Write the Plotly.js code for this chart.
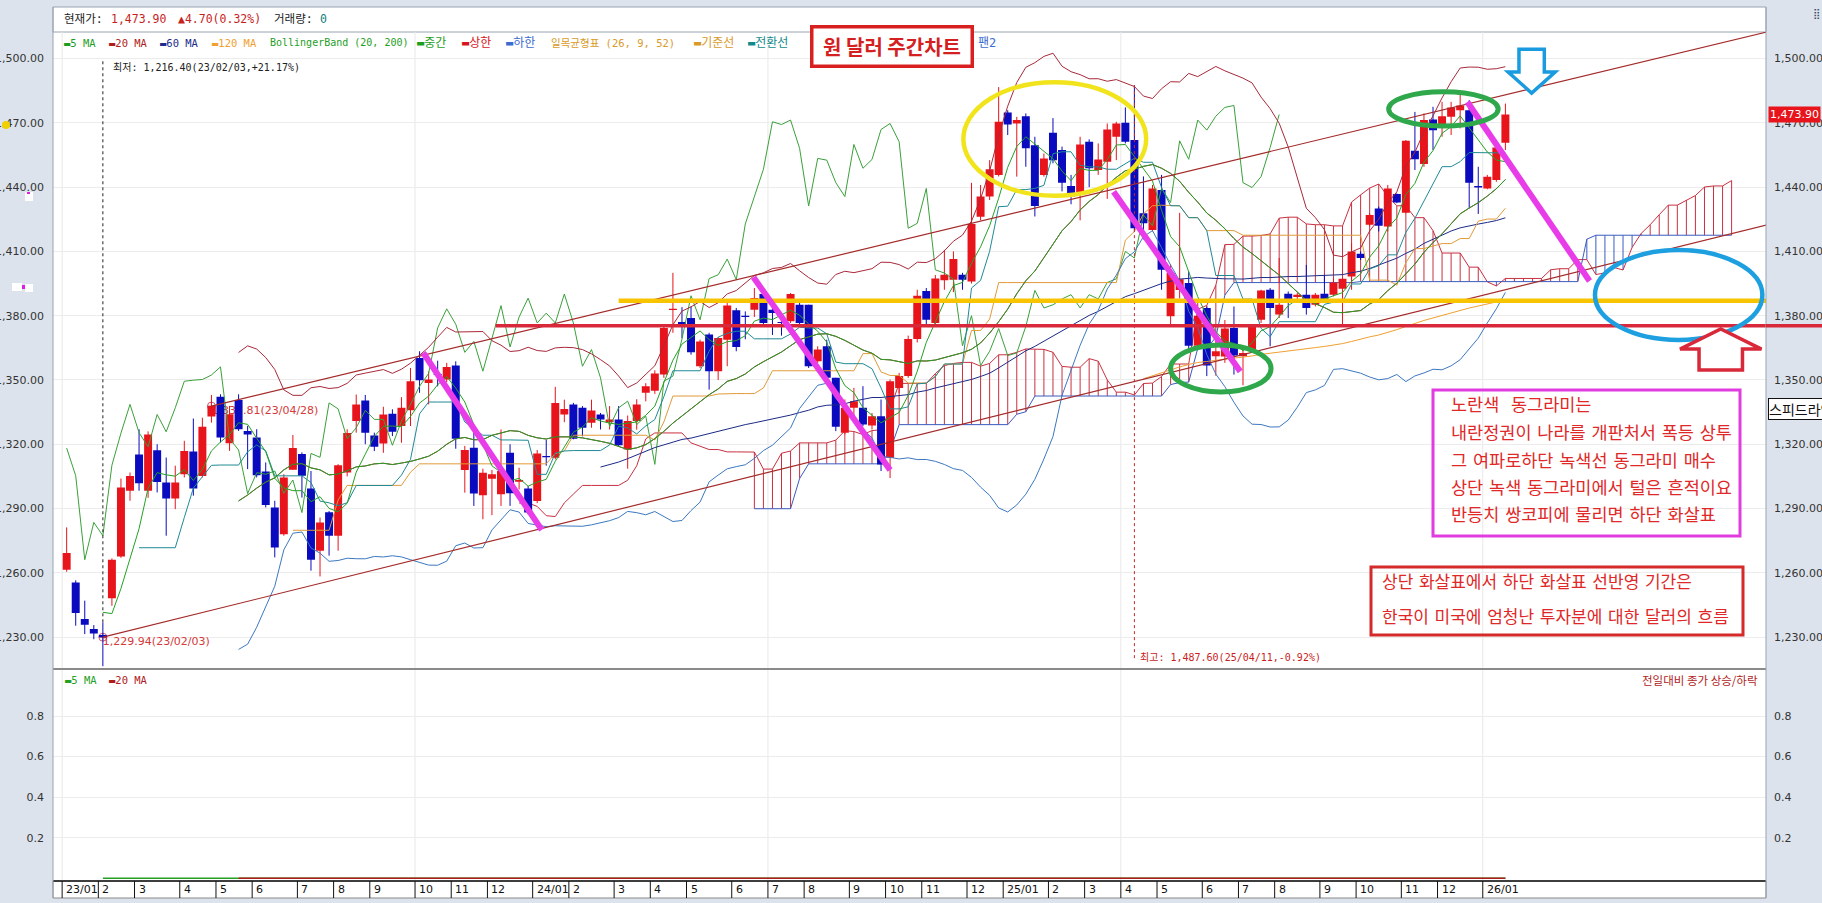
<!DOCTYPE html>
<html>
<head>
<meta charset="utf-8">
<script src="https://cdn.plot.ly/plotly-3.0.1.min.js"></script>
<style>
html,body{margin:0;padding:0;background:#dce3ec;overflow:hidden;}
#chart{width:1822px;height:903px;}
</style>
</head>
<body>
<div id="chart"></div>
<script>
// ================= DATA (weekly USD/KRW candles) =================
const firstWeekFriday = [2023, 0, 6];
const opens = [1261.4,1255.5,1238.4,1233.8,1231.0,1248.1,1267.6,1298.3,1315.2,1298.3,
1317.2,1302.1,1294.7,1306.0,1316.6,1305.2,1332.9,1342.2,1320.5,1340.7,
1326.2,1323.1,1307.3,1290.5,1278.0,1308.1,1315.4,1299.3,1270.3,1288.2,
1277.3,1306.8,1330.8,1340.4,1324.1,1320.4,1334.2,1328.5,1335.9,1360.3,
1348.6,1352.8,1350.2,1356.7,1308.0,1318.4,1296.2,1303.9,1296.7,1316.0,
1302.5,1299.3,1293.5,1314.5,1313.7,1333.9,1338.6,1337.0,1330.0,1333.9,
1330.3,1331.6,1317.6,1330.8,1344.0,1345.0,1352.5,1382.6,1377.0,1378.9,
1356.4,1371.2,1354.1,1368.8,1382.5,1380.0,1382.8,1390.1,1382.8,1377.0,
1377.4,1385.1,1385.1,1358.7,1365.7,1351.0,1325.4,1337.0,1337.0,1328.8,
1333.1,1313.7,1346.3,1351.8,1369.1,1391.5,1376.6,1396.5,1396.8,1399.1,
1396.0,1426.2,1435.6,1445.7,1474.8,1469.7,1473.1,1459.6,1445.7,1465.4,
1457.3,1440.5,1436.3,1461.2,1448.0,1451.9,1463.5,1470.0,1462.0,1427.8,
1420.0,1438.7,1379.7,1392.0,1395.2,1366.0,1383.6,1361.1,1361.0,1374.3,
1361.1,1364.5,1378.1,1392.1,1380.5,1390.2,1388.7,1389.8,1385.1,1390.2,
1389.8,1392.6,1398.3,1408.9,1422.4,1430.0,1421.6,1436.8,1428.0,1457.0,
1450.8,1471.6,1468.9,1472.8,1475.9,1475.9,1440.5,1439.4,1443.3,1460.7];
const highs = [1281.2,1256.5,1247.0,1235.6,1236.9,1266.7,1304.0,1306.8,1327.0,1326.0,
1320.0,1313.8,1310.0,1321.6,1332.0,1332.4,1343.0,1343.3,1337.9,1343.3,
1328.6,1327.0,1311.5,1293.6,1306.0,1324.3,1316.2,1307.5,1285.8,1288.8,
1310.7,1327.0,1343.2,1343.0,1325.4,1337.5,1336.3,1342.0,1355.6,1363.4,
1354.0,1359.0,1358.0,1358.7,1319.2,1325.4,1308.6,1308.0,1326.9,1320.0,
1309.0,1300.5,1317.3,1322.0,1346.8,1340.8,1339.3,1337.8,1340.8,1334.6,
1337.8,1337.8,1333.4,1341.0,1348.5,1354.5,1375.8,1400.0,1384.0,1384.3,
1368.8,1372.0,1370.0,1386.0,1383.6,1382.0,1392.9,1390.6,1384.3,1380.0,
1390.6,1385.9,1385.1,1365.7,1368.8,1351.0,1340.9,1346.3,1347.1,1334.6,
1340.9,1350.2,1353.3,1370.7,1392.1,1392.9,1399.0,1410.7,1410.0,1400.0,
1442.0,1441.0,1452.6,1486.7,1475.9,1472.8,1474.4,1463.5,1455.7,1472.2,
1458.9,1445.7,1463.5,1462.3,1460.4,1469.7,1470.5,1477.2,1487.6,1445.0,
1441.0,1445.7,1404.0,1428.0,1400.6,1386.0,1384.3,1370.0,1378.0,1384.3,
1364.2,1376.0,1392.1,1392.9,1406.9,1391.3,1390.6,1403.7,1390.6,1399.1,
1397.5,1397.5,1413.8,1410.0,1427.8,1430.9,1441.0,1437.1,1462.0,1475.1,
1474.4,1477.5,1479.8,1479.8,1484.5,1480.6,1449.5,1445.7,1458.8,1479.0];
const lows = [1260.5,1235.3,1231.4,1229.0,1216.4,1244.6,1267.0,1293.6,1298.3,1295.0,
1297.5,1277.3,1289.7,1304.5,1296.0,1304.5,1330.1,1320.8,1316.9,1326.2,
1308.4,1304.5,1290.5,1267.2,1277.3,1308.0,1295.1,1261.0,1258.3,1268.0,
1270.3,1305.0,1325.4,1320.0,1316.8,1316.0,1323.8,1320.7,1328.5,1344.0,
1338.6,1347.0,1349.0,1317.9,1297.4,1291.2,1285.0,1286.9,1291.2,1291.2,
1298.9,1287.3,1292.5,1310.0,1312.9,1330.3,1322.3,1323.7,1327.7,1326.9,
1326.9,1319.2,1308.6,1326.8,1340.0,1343.5,1351.0,1372.0,1369.5,1361.8,
1355.6,1345.5,1350.0,1356.4,1363.4,1369.0,1379.4,1375.8,1371.0,1370.7,
1376.6,1375.8,1355.6,1357.9,1350.2,1326.1,1324.6,1333.1,1328.4,1326.9,
1307.5,1304.2,1343.8,1351.0,1367.5,1375.0,1375.5,1392.1,1391.0,1392.1,
1395.0,1424.5,1434.0,1445.0,1464.3,1444.9,1449.5,1426.3,1444.9,1451.1,
1438.0,1432.0,1424.5,1440.0,1445.7,1434.5,1452.6,1460.4,1419.3,1415.6,
1419.3,1392.1,1375.0,1388.0,1363.9,1364.0,1351.8,1352.0,1358.0,1352.5,
1347.5,1363.7,1376.6,1365.7,1378.9,1378.9,1387.5,1380.5,1384.3,1387.5,
1389.0,1375.8,1392.1,1406.0,1421.6,1419.3,1419.3,1432.5,1427.8,1448.0,
1449.5,1457.3,1463.5,1464.3,1467.4,1430.1,1427.5,1439.0,1442.5,1457.3];
const closes = [1269.2,1241.2,1235.8,1231.7,1229.94,1266.1,1299.8,1305.2,1301.8,1324.5,
1302.4,1294.7,1302.1,1316.9,1299.3,1328.2,1337.81,1323.1,1334.0,1327.0,
1324.5,1305.5,1291.7,1271.8,1304.5,1318.2,1305.3,1266.1,1283.5,1277.3,
1310.2,1325.2,1338.6,1325.4,1318.8,1333.9,1325.8,1337.0,1349.4,1349.9,
1350.2,1352.3,1356.1,1322.6,1317.3,1297.0,1306.7,1306.0,1307.5,1297.1,
1303.3,1288.1,1315.7,1313.9,1339.3,1336.5,1322.6,1327.7,1335.8,1331.6,
1331.6,1319.5,1330.8,1338.6,1347.1,1353.0,1374.3,1383.2,1376.0,1362.9,
1368.0,1354.1,1369.6,1384.7,1365.4,1379.4,1388.2,1376.6,1381.2,1376.6,
1390.1,1376.6,1356.4,1364.2,1351.0,1328.2,1337.0,1340.1,1329.2,1333.1,
1310.6,1349.4,1351.8,1369.1,1389.3,1378.1,1397.3,1399.1,1406.4,1396.8,
1422.8,1435.6,1448.3,1470.5,1469.2,1471.3,1458.1,1431.2,1453.4,1452.6,
1442.1,1435.6,1459.9,1448.8,1452.9,1466.9,1469.7,1461.2,1420.8,1423.1,
1439.4,1401.4,1399.9,1397.0,1366.0,1380.0,1356.7,1363.4,1374.0,1361.4,
1362.6,1375.0,1391.8,1383.6,1385.1,1387.8,1389.8,1383.6,1389.8,1387.8,
1395.5,1397.2,1410.0,1406.9,1427.0,1422.0,1439.4,1432.8,1461.6,1453.0,
1471.3,1466.6,1473.1,1477.2,1478.1,1442.1,1439.8,1444.9,1458.5,1473.9];
const volumes = [0,0,0,0,0,0,0,0,0,0,0,0,0,0,0,0,0,0,0,0,0,0,0,0,0,0,0,0,0,0,0,0,0,0,0,0,0,0,0,0,
0,0,0,0,0,0,0,0,0,0,0,0,0,0,0,0,0,0,0,0,0,0,0,0,0,0,0,0,0,0,0,0,0,0,0,0,0,0,0,0,
0,0,0,0,0,0,0,0,0,0,0,0,0,0,0,0,0,0,0,0,0,0,0,0,0,0,0,0,0,0,0,0,0,0,0,0,0,0,0,0,
0,0,0,0,0,0,0,0,0,0,0,0,0,0,0,0,0,0,0,0,0,0,0,0,0,0,0,0,0,0,0,0,0,0,0,0,0,0,0,0];
const dayChange = 4.70;
const dayChangePct = 0.32;

// month tick labels (candle index where each month begins)
const tickIdx = [0,4,8,13,17,21,26,30,34,39,43,47,52,56,61,65,69,74,78,82,87,91,95,100,
104,109,113,117,121,126,130,134,139,143,148,152,157];
const tickText = ['23/01','2','3','4','5','6','7','8','9','10','11','12',
'24/01','2','3','4','5','6','7','8','9','10','11','12',
'25/01','2','3','4','5','6','7','8','9','10','11','12','26/01'];
const priceTicks = [1230,1260,1290,1320,1350,1380,1410,1440,1470,1500];
const subTicks = [0.2,0.4,0.6,0.8];

// hand-drawn objects on the chart (candle index, price)
const trendLowerIdx = [4, 188], trendLowerVal = [1229.94, 1422.5];
const trendUpperIdx = [16, 188], trendUpperVal = [1337.81, 1512.5];
const yellowLineIdx = [61, 188], yellowLineVal = [1387.0, 1387.0];
const redLineIdx = [47.4, 188], redLineVal = [1375.3, 1375.3];
const magentaIdx = [[39.4,52.5],[75.9,91.0],[115.7,129.7],[154.8,168.3]];
const magentaVal = [[1362.7,1280.0],[1397.9,1308.0],[1437.8,1353.9],[1479.7,1396.2]];
const ellipseIdx = [[99.1,119.3],[146.1,158.2],[122.0,133.1],[168.9,187.4]];
const ellipseVal = [[1436.0,1489.0],[1468.5,1484.5],[1344.4,1366.3],[1368.7,1410.6]];
const blueArrowIdx = 161.9, blueArrowVal = [1504.4, 1493.7, 1483.9];
const redArrowIdx = 182.8, redArrowVal = [1373.8, 1364.4, 1354.6];

const titleText = '원 달러 주간차트';
const noteMagenta = ['노란색  동그라미는','내란정권이 나라를 개판처서 폭등 상투','그 여파로하단 녹색선 동그라미 매수','상단 녹색 동그라미에서 털은 흔적이요','반등치 쌍코피에 물리면 하단 화살표'];
const noteRed = ['상단 화살표에서 하단 화살표 선반영 기간은','한국이 미국에 엄청난 투자분에 대한 달러의 흐름'];
const legendLabels = ['▬5 MA','▬20 MA','▬60 MA','▬120 MA','BollingerBand (20, 200)','▬중간','▬상한','▬하한','일목균형표 (26, 9, 52)','▬기준선','▬전환선','팬2'];
const subLegendLabels = ['▬5 MA','▬20 MA'];

// ================= STYLE / GEOMETRY =================
const W = 1822, H = 903, ML = 53, MR = 56, MT = 32, MB = 22;
const PW = W - ML - MR, PH = H - MT - MB;
const px = x => (x - ML) / PW;
const py = y => (H - MB - y) / PH;
const splitY = 669;
const UP = '#e8141c', DOWN = '#0a0abe';
const C = {ma5:'#25a025', ma20:'#a8202a', ma60:'#1c2a86', ma120:'#f0a030', bbMid:'#25a025', bbUp:'#a8283a', bbLow:'#3c78c0',
  kijun:'#e09a38', tenkan:'#1e8a96', lag:'#3aa03a', span1:'#c83040', span2:'#3a5cc0'};
const legendColors = ['#1e9e1e','#b01c1c','#1c2c8c','#f0a030','#1e9e1e','#1e9e1e','#d8141c','#3c6cd0','#d89a28','#d89a28','#108a8a','#3c6cd0'];
const legendX = [62,107,158,210,268,415,460,504,549,692,746,976];
const legendSize = [10.5,10.5,10.5,10.5,10,12,12,12,10.5,12,12,12];
const MONO = 'DejaVu Sans Mono, Noto Sans CJK KR, monospace';
const KR = 'Noto Sans CJK KR, sans-serif';
const NUM = 'DejaVu Sans, sans-serif';
const wide = s => s.replace(/ /g, '\u2004');

// ================= INDICATORS =================
const N = closes.length;
const idx = closes.map((_, i) => i);
function sma(a, n) { return a.map((_, i) => { if (i < n - 1) return null; let s = 0; for (let k = i - n + 1; k <= i; k++) s += a[k]; return s / n; }); }
function sd(a, n) { const m = sma(a, n); return a.map((_, i) => { if (i < n - 1) return null; let s = 0; for (let k = i - n + 1; k <= i; k++) s += (a[k] - m[i]) ** 2; return Math.sqrt(s / n); }); }
function midHL(n) { return highs.map((_, i) => { if (i < n - 1) return null; let hh = -Infinity, ll = Infinity; for (let k = i - n + 1; k <= i; k++) { hh = Math.max(hh, highs[k]); ll = Math.min(ll, lows[k]); } return (hh + ll) / 2; }); }
const ma5 = sma(closes, 5), ma20 = sma(closes, 20), ma60 = sma(closes, 60), ma120 = sma(closes, 120);
const sd20 = sd(closes, 20);
const bbUp = ma20.map((m, i) => m == null ? null : m + 2 * sd20[i]);
const bbLow = ma20.map((m, i) => m == null ? null : m - 2 * sd20[i]);
const tenkan = midHL(9), kijun = midHL(26), senkouB = midHL(52);
const SHIFT = 25;
const cloudX = [], span1 = [], span2 = [];
for (let j = 0; j < N + SHIFT; j++) {
  const i = j - SHIFT;
  cloudX.push(j);
  span1.push(i >= 0 && tenkan[i] != null && kijun[i] != null ? (tenkan[i] + kijun[i]) / 2 : null);
  span2.push(i >= 0 && senkouB[i] != null ? senkouB[i] : null);
}
const lagX = [], lagY = [];
for (let i = SHIFT; i < N; i++) { lagX.push(i - SHIFT); lagY.push(closes[i]); }
const vol5 = sma(volumes, 5), vol20 = sma(volumes, 20);

// ================= TRACES =================
const traces = [];
function lineT(x, y, color, width, extra) {
  return Object.assign({type:'scatter', mode:'lines', x, y, line:{color, width}, hoverinfo:'skip', xaxis:'x', yaxis:'y'}, extra || {});
}
const hatchR = {x:[], y:[]}, hatchB = {x:[], y:[]};
cloudX.forEach((j, k) => {
  if (span1[k] == null || span2[k] == null) return;
  const t = span1[k] >= span2[k] ? hatchR : hatchB;
  t.x.push(j, j, null); t.y.push(span1[k], span2[k], null);
});
traces.push(lineT(hatchR.x, hatchR.y, C.span1, 1));
traces.push(lineT(hatchB.x, hatchB.y, C.span2, 1));
traces.push(lineT(cloudX, span1, C.span1, 1));
traces.push(lineT(cloudX, span2, C.span2, 1));

function fmt(v) { return v.toLocaleString('en-US', {minimumFractionDigits:2, maximumFractionDigits:2}); }
function weekDate(i) {
  const d = new Date(Date.UTC(firstWeekFriday[0], firstWeekFriday[1], firstWeekFriday[2]) + i * 7 * 86400000);
  const p = n => String(n).padStart(2, '0');
  return p(d.getUTCFullYear() % 100) + '/' + p(d.getUTCMonth() + 1) + '/' + p(d.getUTCDate());
}
const anchorIdx = [trendLowerIdx[0], trendUpperIdx[0]];
traces.push({type:'scatter', mode:'markers', x:anchorIdx, y:anchorIdx.map(i => closes[i]), marker:{symbol:'circle-cross-open', size:8, color:'#c85a78', line:{width:1}}, hoverinfo:'skip'});
traces.push({type:'scatter', mode:'text', x:anchorIdx, y:anchorIdx.map(i => closes[i]),
  text:anchorIdx.map(i => fmt(closes[i]) + '(' + weekDate(i) + ')'), textposition:'bottom right',
  textfont:{family:NUM, size:11, color:'#d43a3a'}, hoverinfo:'skip'});

// candles
const wickU = {x:[], y:[]}, wickD = {x:[], y:[]}, bodyU = {x:[], y:[]}, bodyD = {x:[], y:[]};
const HW = 0.44;
idx.forEach(i => {
  const up = closes[i] >= opens[i];
  const w = up ? wickU : wickD, b = up ? bodyU : bodyD;
  w.x.push(i, i, null); w.y.push(lows[i], highs[i], null);
  let lo = Math.min(opens[i], closes[i]), hi = Math.max(opens[i], closes[i]);
  if (hi - lo < 0.5) { const m = (hi + lo) / 2; lo = m - 0.25; hi = m + 0.25; }
  b.x.push(i - HW, i + HW, i + HW, i - HW, i - HW, null);
  b.y.push(lo, lo, hi, hi, lo, null);
});
traces.push(lineT(wickU.x, wickU.y, UP, 1));
traces.push(lineT(wickD.x, wickD.y, DOWN, 1));
traces.push(lineT(bodyU.x, bodyU.y, UP, 0, {fill:'toself', fillcolor:UP}));
traces.push(lineT(bodyD.x, bodyD.y, DOWN, 0, {fill:'toself', fillcolor:DOWN}));

// indicators
traces.push(lineT(lagX, lagY, C.lag, 1));
traces.push(lineT(idx, ma120, C.ma120, 1));
traces.push(lineT(idx, ma60, C.ma60, 1));
traces.push(lineT(idx, kijun, C.kijun, 1));
traces.push(lineT(idx, tenkan, C.tenkan, 1));
traces.push(lineT(idx, bbUp, C.bbUp, 1));
traces.push(lineT(idx, bbLow, C.bbLow, 1));
traces.push(lineT(idx, ma20, C.ma20, 1));
traces.push(lineT(idx, ma5, C.ma5, 1));
traces.push(lineT(idx, ma20, C.bbMid, 1));

let minI = 0, maxI = 0;
idx.forEach(i => { if (lows[i] < lows[minI]) minI = i; if (highs[i] > highs[maxI]) maxI = i; });
const last = closes[N - 1];
traces.push(lineT([minI, minI], [highs[minI], 1499.5], '#222', 1, {line:{color:'#222', width:1, dash:'dot'}}));
traces.push(lineT([maxI, maxI], [highs[maxI], 1219.0], '#c82828', 1, {line:{color:'#c82828', width:1, dash:'3px,3px'}}));

// hand drawn lines
traces.push(lineT(trendLowerIdx, trendLowerVal, '#a42a2a', 1.2));
traces.push(lineT(trendUpperIdx, trendUpperVal, '#a42a2a', 1.2));
traces.push(lineT(yellowLineIdx, yellowLineVal, '#f8c400', 4.5));
traces.push(lineT(redLineIdx, redLineVal, '#d8283a', 3.5));
magentaIdx.forEach((xs, k) => traces.push(lineT(xs, magentaVal[k], '#e83ce8', 6)));

traces.push({type:'scatter', mode:'lines', x:[0], y:[1300], xaxis:'x', yaxis:'y2', line:{width:0}, hoverinfo:'skip'});
traces.push({type:'scatter', mode:'lines', x:idx, y:vol5, xaxis:'x2', yaxis:'y3', line:{color:'#25a025', width:1.5}, hoverinfo:'skip'});
traces.push({type:'scatter', mode:'lines', x:idx, y:vol20, xaxis:'x2', yaxis:'y3', line:{color:'#b01c1c', width:1.5}, hoverinfo:'skip'});
traces.push({type:'scatter', mode:'lines', x:[0], y:[0.5], xaxis:'x2', yaxis:'y4', line:{width:0}, hoverinfo:'skip'});

// ================= SHAPES =================
const shapes = [];
const lowDom = py(splitY);
shapes.push({type:'rect', xref:'paper', yref:'paper', x0:0, x1:1, y0:py(32), y1:py(7), fillcolor:'#ffffff', line:{color:'#9aa4b0', width:1}, layer:'below'});
shapes.push({type:'rect', xref:'paper', yref:'paper', x0:0, x1:1, y0:py(898), y1:py(881), fillcolor:'#ffffff', line:{color:'#8a8a8a', width:1}, layer:'below'});
tickIdx.forEach((t, k) => {
  if (k % 9 === 0) shapes.push({type:'line', xref:'x', yref:'paper', x0:t - 0.5, x1:t - 0.5, y0:0, y1:1, line:{color:'#e8e8e8', width:1}, layer:'below'});
  shapes.push({type:'line', xref:'x', yref:'paper', x0:t - 0.5, x1:t - 0.5, y0:py(898), y1:py(881), line:{color:'#111', width:1}});
});
shapes.push({type:'line', xref:'paper', yref:'paper', x0:0, x1:1, y0:lowDom, y1:lowDom, line:{color:'#8a8a8a', width:2}});
shapes.push({type:'line', xref:'paper', yref:'paper', x0:0, x1:1, y0:0, y1:0, line:{color:'#111', width:1.5}});
shapes.push({type:'line', xref:'paper', yref:'paper', x0:0, x1:0, y0:py(898), y1:py(7), line:{color:'#9aa4b0', width:1}});
shapes.push({type:'line', xref:'paper', yref:'paper', x0:1, x1:1, y0:py(898), y1:py(7), line:{color:'#9aa4b0', width:1}});
shapes.push({type:'line', xref:'paper', yref:'y', x0:1, x1:px(W + 2), y0:redLineVal[1], y1:redLineVal[1], line:{color:'#d8283a', width:3.5}});
const ellColors = ['#f2e41c', '#2ea84a', '#2ea84a', '#1ea0e0'];
const ellWidths = [4.5, 5, 5, 4.5];
ellipseIdx.forEach((xs, k) => shapes.push({type:'circle', xref:'x', yref:'y', x0:xs[0], x1:xs[1], y0:ellipseVal[k][0], y1:ellipseVal[k][1], line:{color:ellColors[k], width:ellWidths[k]}}));
function arrowPath(cx, yA, yNeck, yTip, head, shaft) {
  return `M${cx - shaft},${yA} L${cx + shaft},${yA} L${cx + shaft},${yNeck} L${cx + head},${yNeck} L${cx},${yTip} L${cx - head},${yNeck} L${cx - shaft},${yNeck} Z`;
}
shapes.push({type:'path', xref:'x', yref:'y', path:arrowPath(blueArrowIdx, blueArrowVal[0], blueArrowVal[1], blueArrowVal[2], 2.6, 1.4), fillcolor:'#ffffff', line:{color:'#1a9be0', width:3.5}});
shapes.push({type:'path', xref:'x', yref:'y', path:arrowPath(redArrowIdx, redArrowVal[2], redArrowVal[1], redArrowVal[0], 4.5, 2.4), fillcolor:'#ffffff', line:{color:'#d8283a', width:3.5}});
shapes.push({type:'rect', xref:'paper', yref:'paper', x0:px(1433), x1:px(1740), y0:py(536), y1:py(390), line:{color:'#e03ce0', width:3}});
shapes.push({type:'rect', xref:'paper', yref:'paper', x0:px(1371), x1:px(1743), y0:py(635), y1:py(567), line:{color:'#d42a2a', width:3}});
shapes.push({type:'circle', xref:'paper', yref:'paper', x0:px(2), x1:px(10), y0:py(129), y1:py(121), fillcolor:'#f0d000', line:{width:0}});
shapes.push({type:'rect', xref:'paper', yref:'paper', x0:px(25), x1:px(33), y0:py(201), y1:py(192), fillcolor:'#ffffff', line:{width:0}});
shapes.push({type:'rect', xref:'paper', yref:'paper', x0:px(12), x1:px(22), y0:py(291), y1:py(283), fillcolor:'#ffffff', line:{width:0}});
shapes.push({type:'rect', xref:'paper', yref:'paper', x0:px(25), x1:px(33), y0:py(292), y1:py(284), fillcolor:'#ffffff', line:{width:0}});
shapes.push({type:'rect', xref:'paper', yref:'paper', x0:px(22), x1:px(25), y0:py(289), y1:py(285), fillcolor:'#e020e0', line:{width:0}});
shapes.push({type:'rect', xref:'paper', yref:'paper', x0:px(27), x1:px(30), y0:py(194), y1:py(192), fillcolor:'#e020e0', line:{width:0}});

// ================= ANNOTATIONS =================
const ann = [];
function pTxt(x, y, text, color, size, family, anchor, extra) {
  return Object.assign({xref:'paper', yref:'paper', x:px(x), y:py(y), text, showarrow:false, xanchor:anchor || 'left', yanchor:'middle', font:{family:family || MONO, size:size || 11, color}}, extra || {});
}
ann.push(pTxt(62, 19.5, '현재가:', '#222', 11.5));
ann.push(pTxt(109, 19.5, fmt(last), '#c81e1e', 11.5));
ann.push(pTxt(176, 19.5, '▲' + dayChange.toFixed(2) + '(' + dayChangePct.toFixed(2) + '%)', '#c81e1e', 11.5));
ann.push(pTxt(272, 19.5, '거래량:', '#222', 11.5));
ann.push(pTxt(318, 19.5, String(volumes[N - 1]), '#108080', 11.5));
legendLabels.forEach((t, k) => ann.push(pTxt(legendX[k], 43, t, legendColors[k], legendSize[k])));
ann.push({xref:'paper', yref:'paper', x:px(892), y:py(46.5), text:'<b>' + titleText + '</b>', showarrow:false, xanchor:'center', yanchor:'middle',
  font:{family:KR, size:20, color:'#d42020'}, bgcolor:'#ffffff', bordercolor:'#d82020', borderwidth:3.5, width:155, height:34, borderpad:1});
const pctLow = (last / lows[minI] - 1) * 100, pctHigh = (last / highs[maxI] - 1) * 100;
const sgn = v => (v >= 0 ? '+' : '') + v.toFixed(2) + '%';
ann.push({xref:'x', yref:'y', x:minI, y:1496.0, xshift:8, text:'최저: ' + fmt(lows[minI]) + '(' + weekDate(minI) + ',' + sgn(pctLow) + ')', showarrow:false, xanchor:'left', yanchor:'middle', font:{family:MONO, size:10, color:'#222'}});
ann.push({xref:'x', yref:'y', x:maxI, y:1220.6, xshift:4, text:'최고: ' + fmt(highs[maxI]) + '(' + weekDate(maxI) + ',' + sgn(pctHigh) + ')', showarrow:false, xanchor:'left', yanchor:'middle', font:{family:MONO, size:10, color:'#c81e1e'}});
const magY = [403, 431, 459, 486.5, 513];
noteMagenta.forEach((t, k) => ann.push(pTxt(1449, magY[k], wide(t), '#e02828', 17.5, KR)));
const redY = [581, 615];
noteRed.forEach((t, k) => ann.push(pTxt(1380, redY[k], wide(t), '#e02828', 17, KR)));
ann.push(pTxt(63, 680, subLegendLabels[0], '#25a025', 10.5));
ann.push(pTxt(107, 680, subLegendLabels[1], '#b01c1c', 10.5));
ann.push(pTxt(1760, 680, '전일대비 종가 상승/하락', '#b01c1c', 11.5, KR, 'right'));
tickIdx.forEach((t, k) => ann.push({xref:'x', yref:'paper', x:t - 0.5, xshift:2, y:py(889.5), text:tickText[k], showarrow:false, xanchor:'left', yanchor:'middle', font:{family:NUM, size:11, color:'#111'}}));
ann.push({xref:'paper', yref:'y', x:px(1768), y:last, text:fmt(last), showarrow:false, xanchor:'left', yanchor:'middle', bgcolor:UP, borderpad:1, font:{family:NUM, size:11, color:'#ffffff'}});
ann.push({xref:'paper', yref:'paper', x:px(1768), y:py(409), text:'스피드라인', showarrow:false, xanchor:'left', yanchor:'middle', bgcolor:'#ffffff', bordercolor:'#111', borderwidth:1, borderpad:0, font:{family:KR, size:14, color:'#111'}});
ann.push(pTxt(1816, 13, '⣿', '#3a4a6a', 10, NUM, 'center'));

// ================= LAYOUT =================
const tickFont = {family:NUM, size:11, color:'#333'};
const mainRange = [1215.1, 1512.4];
const subRange = [-0.0133, 1.032];
const xRange = [-1.51, 187.8];
const layout = {
  width:W, height:H, margin:{l:ML, r:MR, t:MT, b:MB, pad:0},
  paper_bgcolor:'#dce3ec', plot_bgcolor:'#ffffff', showlegend:false, hovermode:false, dragmode:false,
  xaxis:{domain:[0,1], range:xRange, anchor:'y', showticklabels:false, showgrid:false, zeroline:false, ticks:'', showline:false},
  xaxis2:{domain:[0,1], range:xRange, anchor:'y3', showticklabels:false, showgrid:false, zeroline:false, ticks:'', showline:false},
  yaxis:{domain:[lowDom,1], range:mainRange, anchor:'x', side:'left', tickvals:priceTicks, tickformat:',.2f', tickfont:tickFont,
    showgrid:true, gridcolor:'#ececec', zeroline:false, ticks:'', ticklabelstandoff:8, showline:false},
  yaxis2:{overlaying:'y', range:mainRange, anchor:'x', side:'right', tickvals:priceTicks, tickformat:',.2f', tickfont:tickFont,
    showgrid:false, zeroline:false, ticks:'', ticklabelstandoff:7, showline:false},
  yaxis3:{domain:[0,lowDom], range:subRange, anchor:'x2', side:'left', tickvals:subTicks, tickformat:'.1f', tickfont:tickFont,
    showgrid:true, gridcolor:'#ececec', zeroline:false, ticks:'', ticklabelstandoff:8, showline:false},
  yaxis4:{overlaying:'y3', range:subRange, anchor:'x2', side:'right', tickvals:subTicks, tickformat:'.1f', tickfont:tickFont,
    showgrid:false, zeroline:false, ticks:'', ticklabelstandoff:7, showline:false},
  shapes, annotations:ann
};
Plotly.newPlot('chart', traces, layout, {displayModeBar:false, staticPlot:true});
</script>
</body>
</html>
